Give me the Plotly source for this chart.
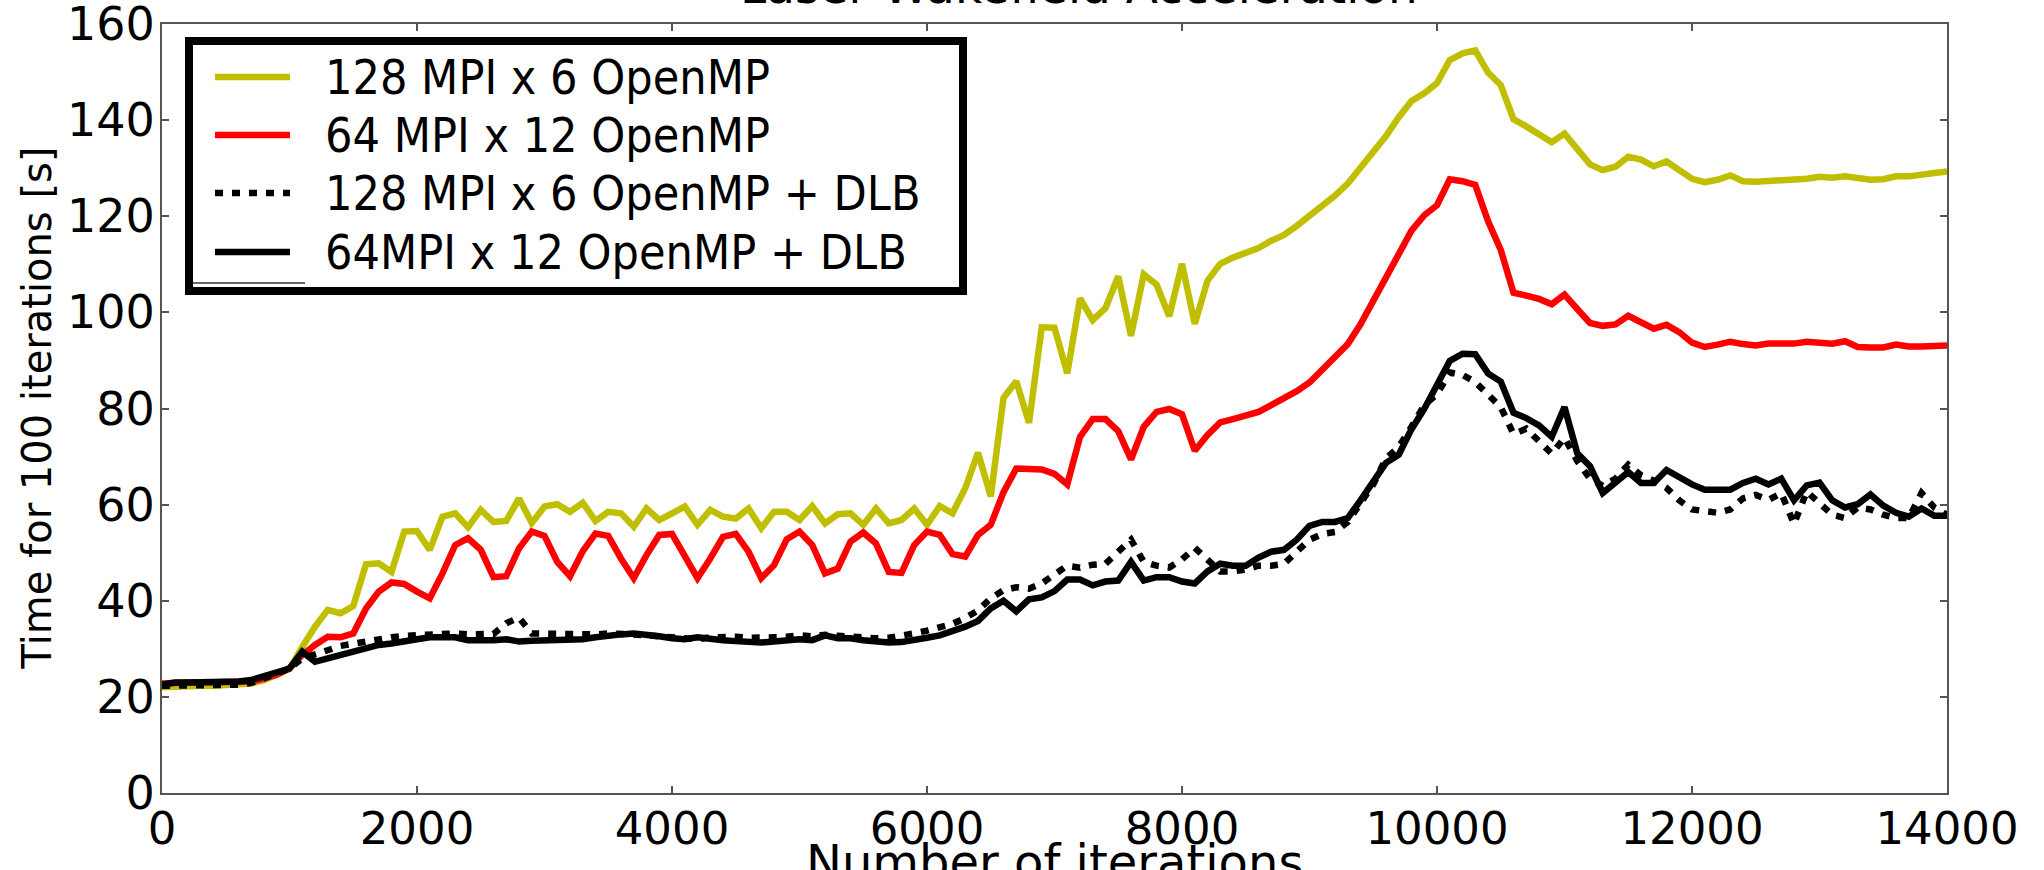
import plotly.graph_objects as go

# ---------------- data ----------------
iterations = list(range(0, 14001, 100))

mpi128_omp6 = [
    22.0, 22.2, 22.3, 22.3, 22.3, 22.4, 22.4, 22.8, 23.5, 24.5,
    25.8, 30.4, 34.6, 38.1, 37.4, 38.9, 47.6, 47.8, 46.0, 54.4,
    54.5, 50.6, 57.5, 58.2, 55.3, 58.9, 56.4, 56.6, 61.3, 56.2,
    59.6, 60.1, 58.5, 60.4, 56.6, 58.5, 58.2, 55.4, 59.2, 56.8,
    58.2, 59.6, 55.8, 58.9, 57.5, 57.1, 59.2, 55.1, 58.5, 58.5,
    56.8, 59.7, 56.1, 58.0, 58.2, 55.8, 59.2, 56.1, 56.8, 59.2,
    55.8, 59.7, 58.2, 63.4, 70.8, 61.7, 82.2, 85.7, 77.0, 96.9,
    96.8, 87.3, 102.9, 98.4, 100.9, 107.5, 95.1, 107.9, 105.8, 99.2,
    110.1, 97.6, 106.6, 110.1, 111.4, 112.4, 113.4, 114.9, 116.1, 118.0,
    120.0, 121.9, 124.3, 126.8, 130.1, 133.4, 136.7, 140.6, 144.0, 145.6,
    147.7, 152.5, 153.9, 154.5, 149.9, 147.3, 140.2, 138.7, 136.9, 135.4,
    137.2, 133.9, 130.8, 129.6, 130.3, 132.4, 131.8, 130.4, 131.4, 129.6,
    127.8, 127.1, 127.6, 128.5, 127.3, 127.2, 127.3, 127.3, 127.6, 127.8,
    128.2, 128.0, 128.3, 127.8, 127.6, 127.7, 128.3, 128.3, 128.5, 129.0,
    129.3,
]

mpi64_omp12 = [
    22.8, 23.0, 23.0, 23.0, 23.0, 23.0, 23.0, 23.2, 23.8, 24.6,
    26.0, 28.7, 30.8, 32.5, 32.4, 33.2, 38.4, 41.9, 43.8, 43.5,
    41.9, 40.5, 45.7, 51.6, 53.0, 50.6, 44.9, 45.1, 50.9, 54.4,
    53.5, 48.1, 45.1, 50.3, 54.0, 53.5, 48.8, 44.7, 49.5, 53.7,
    53.9, 49.5, 44.7, 48.8, 53.3, 53.9, 50.2, 44.7, 47.4, 52.8,
    54.4, 51.6, 45.7, 46.7, 52.3, 54.2, 51.9, 46.0, 45.8, 51.6,
    54.4, 53.7, 49.7, 49.2, 53.7, 55.8, 62.6, 67.5, 67.4, 67.3,
    66.4, 64.2, 74.1, 77.8, 77.8, 75.3, 69.4, 76.2, 79.3, 79.9,
    78.8, 71.2, 74.5, 77.1, 77.8, 78.5, 79.3, 80.7, 82.1, 83.6,
    85.4, 88.1, 90.5, 93.4, 97.5, 102.5, 107.5, 112.4, 117.0, 120.2,
    122.3, 127.7, 127.3, 126.5, 119.0, 113.0, 104.1, 103.5, 102.8, 101.7,
    103.7, 100.7, 97.8, 97.2, 97.5, 99.3, 97.8, 96.6, 97.4, 95.9,
    93.7, 92.8, 93.3, 93.9, 93.4, 93.1, 93.5, 93.5, 93.5, 93.9,
    93.7, 93.5, 94.0, 92.8, 92.7, 92.7, 93.3, 92.9, 92.9, 93.1,
    93.1,
]

mpi128_omp6_dlb = [
    22.3, 22.4, 22.4, 22.4, 22.4, 22.5, 22.5, 22.9, 23.9, 24.9,
    25.9, 28.0, 28.7, 29.7, 30.6, 31.1, 31.6, 32.0, 32.4, 32.7,
    32.9, 33.1, 33.2, 33.2, 33.0, 32.9, 33.1, 35.3, 36.5, 33.2,
    33.1, 33.1, 33.2, 33.1, 33.0, 33.2, 33.2, 33.0, 32.8, 32.6,
    32.4, 32.2, 32.0, 32.4, 32.6, 32.5, 32.3, 32.2, 32.4, 32.5,
    32.8, 32.6, 32.9, 32.7, 32.5, 32.3, 32.2, 32.3, 32.6, 33.2,
    33.8, 34.5, 35.2, 36.4, 38.0, 40.5, 42.2, 42.8, 42.5, 43.6,
    45.3, 47.3, 46.9, 47.5, 47.7, 50.2, 52.7, 48.1, 47.3, 46.9,
    48.6, 51.0, 48.6, 46.1, 46.1, 46.5, 47.3, 47.3, 47.7, 50.2,
    52.7, 53.9, 54.3, 56.4, 60.5, 64.2, 69.6, 72.0, 76.2, 80.7,
    83.0, 87.5, 87.0, 85.5, 82.9, 80.3, 74.7, 75.8, 73.2, 70.6,
    73.9, 69.1, 65.4, 63.9, 65.4, 68.3, 66.1, 65.0, 63.5, 60.9,
    59.0, 58.6, 58.3, 59.0, 61.3, 62.0, 61.0, 62.4, 56.0, 62.7,
    60.5, 57.9, 57.2, 59.4, 59.0, 57.9, 57.2, 57.2, 62.4, 59.4,
    57.9,
]

mpi64_omp12_dlb = [
    22.5, 23.0, 23.0, 23.0, 23.0, 23.1, 23.2, 23.5, 24.2, 25.0,
    25.9, 29.4, 27.3, 28.0, 28.7, 29.6, 30.4, 30.8, 31.1, 31.7,
    32.0, 32.4, 32.5, 32.4, 31.8, 31.7, 31.8, 32.0, 31.5, 31.7,
    31.8, 31.8, 31.8, 32.0, 32.4, 32.8, 33.0, 33.2, 33.0, 32.6,
    32.2, 32.0, 32.4, 32.0, 31.8, 31.6, 31.4, 31.3, 31.5, 31.8,
    32.0, 31.8, 32.8, 32.2, 32.2, 31.8, 31.4, 31.3, 31.4, 32.0,
    32.3, 32.8, 33.6, 34.6, 35.8, 38.4, 40.0, 37.8, 40.3, 40.7,
    42.0, 44.4, 44.4, 43.2, 44.0, 44.2, 48.1, 44.2, 44.9, 44.9,
    44.0, 43.6, 46.1, 47.7, 47.3, 47.3, 49.0, 50.2, 50.6, 52.7,
    55.6, 56.4, 56.4, 57.2, 60.9, 64.6, 68.7, 70.4, 75.7, 79.9,
    84.8, 89.9, 91.4, 91.3, 87.3, 85.6, 79.1, 78.0, 76.5, 74.1,
    80.3, 70.7, 68.0, 62.4, 64.6, 66.8, 64.5, 64.5, 67.2, 65.7,
    64.2, 63.1, 63.0, 63.1, 64.5, 65.4, 64.2, 65.4, 60.9, 64.0,
    64.6, 60.9, 59.4, 60.1, 62.1, 59.8, 58.3, 57.5, 59.2, 57.7,
    57.7,
]

series_names = [
    "128 MPI x 6 OpenMP",
    "64 MPI x 12 OpenMP",
    "128 MPI x 6 OpenMP + DLB",
    "64MPI x 12 OpenMP + DLB",
]
series_values = [mpi128_omp6, mpi64_omp12, mpi128_omp6_dlb, mpi64_omp12_dlb]

x_ticks = [0, 2000, 4000, 6000, 8000, 10000, 12000, 14000]
y_ticks = [0, 20, 40, 60, 80, 100, 120, 140, 160]

title_text = "Laser Wakefield Acceleration"
x_title = "Number of iterations"
y_title = "Time for 100 iterations [s]"

# ---------------- style ----------------
colors = ["#bfbf00", "#ff0000", "#000000", "#000000"]
dashes = ["solid", "solid", "8px,9px", "solid"]
LW = 6.5

W, H = 2044, 870
L, R, T, B = 162, 97, 24, 77
PW, PH = W - L - R, H - T - B


def px(xp):
    return (xp - L) / PW


def py(yp):
    return (H - B - yp) / PH


FONT = "DejaVu Sans, Liberation Sans, sans-serif"
COND = "DejaVu Sans Condensed, Liberation Sans Narrow, Roboto Condensed, DejaVu Sans, sans-serif"

fig = go.Figure()
for name, vals, c, d in zip(series_names, series_values, colors, dashes):
    fig.add_trace(go.Scatter(
        x=iterations, y=vals, mode="lines", name=name,
        line=dict(color=c, width=LW, dash=d),
        showlegend=False,
    ))

axis_common = dict(
    showline=True, linecolor="#555555", linewidth=2, mirror="allticks",
    ticks="inside", ticklen=7, tickwidth=1.5, tickcolor="#555555",
    showgrid=False, zeroline=False, automargin=False,
    ticklabeloverflow="allow",
)

fig.update_layout(
    width=W, height=H, autosize=False,
    margin=dict(l=L, r=R, t=T, b=B, pad=0),
    paper_bgcolor="white", plot_bgcolor="white",
    xaxis=dict(range=[0, 14000.01], tickvals=x_ticks, ticktext=[str(v) for v in x_ticks],
               ticklabelstandoff=-5,
               tickfont=dict(family=FONT, size=45, color="#000000"), **axis_common),
    yaxis=dict(range=[0, 160.001], tickvals=y_ticks, ticktext=[str(v) for v in y_ticks],
               ticklabelstandoff=-4,
               tickfont=dict(family=FONT, size=46, color="#000000"), **axis_common),
    showlegend=False,
)

annotations = []
# title (partly cut off at the top like the reference)
annotations.append(dict(
    text=title_text, xref="paper", yref="paper", x=px(1079), y=1,
    xanchor="center", yanchor="bottom", yshift=8, showarrow=False,
    font=dict(family=FONT, size=47, color="#000000"),
))
# x title
annotations.append(dict(
    text=x_title, xref="paper", yref="paper", x=0.5, y=0,
    xanchor="center", yanchor="top", yshift=-39, showarrow=False,
    font=dict(family=FONT, size=48, color="#000000"),
))
# y title
annotations.append(dict(
    text=y_title, xref="paper", yref="paper", x=px(36), y=0.5,
    xanchor="center", yanchor="middle", textangle=-90, showarrow=False,
    font=dict(family=FONT, size=40, color="#000000"),
))

shapes = []
# legend box
shapes.append(dict(
    type="rect", xref="paper", yref="paper",
    x0=px(189), x1=px(963), y0=py(291), y1=py(41),
    line=dict(color="#000000", width=8), fillcolor="white", layer="above",
))
shapes.append(dict(
    type="line", xref="paper", yref="paper",
    x0=px(193), x1=px(305), y0=py(283), y1=py(283),
    line=dict(color="#666666", width=2), layer="above",
))
row_y = [77, 135, 193, 252]
for name, c, d, ry in zip(series_names, colors, dashes, row_y):
    shapes.append(dict(
        type="line", xref="paper", yref="paper",
        x0=px(215), x1=px(290), y0=py(ry), y1=py(ry),
        line=dict(color=c, width=LW, dash=d), layer="above",
    ))
    annotations.append(dict(
        text=name, xref="paper", yref="paper", x=px(323), y=py(ry),
        xanchor="left", yanchor="middle", showarrow=False,
        font=dict(family=COND, size=48, color="#000000"),
    ))

fig.update_layout(shapes=shapes, annotations=annotations)

fig.write_html("out.html")
